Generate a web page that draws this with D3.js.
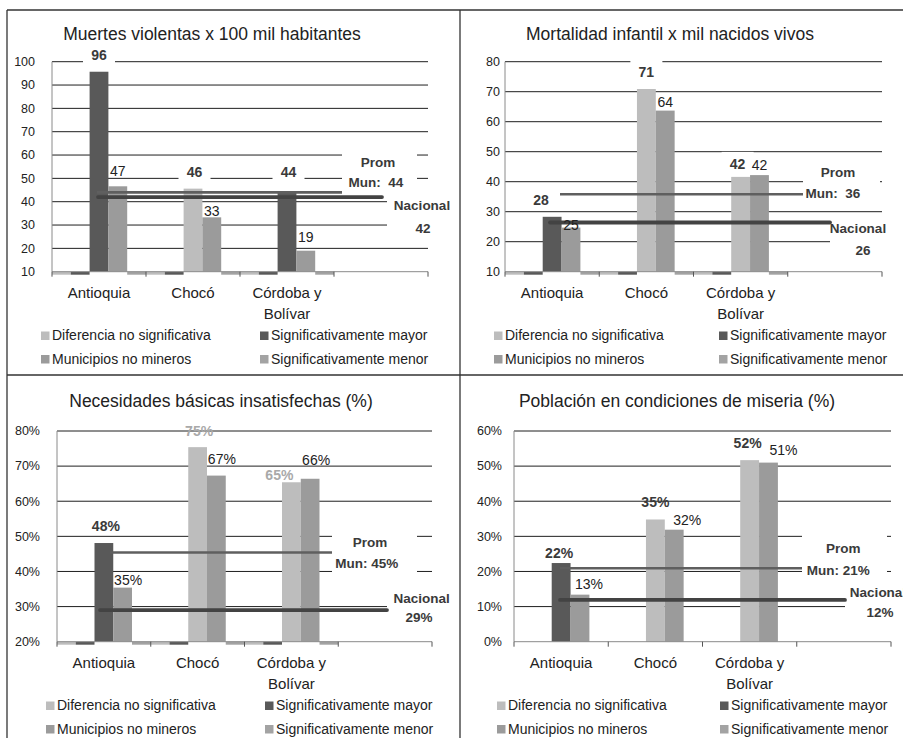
<!DOCTYPE html>
<html><head><meta charset="utf-8">
<script src="https://cdn.jsdelivr.net/npm/d3@7"></script>
<style>
body{margin:0;background:#fff}
svg{display:block}
text{font-family:"Liberation Sans",Arial,Helvetica,sans-serif}
</style>
</head><body>
<svg id="chart" width="903" height="738"></svg>
<script>
// ---------------- DATA ----------------
const categories = ["Antioquia", "Chocó", "Córdoba y\nBolívar", ""];
const legendLabels = ["Diferencia no significativa", "Significativamente mayor", "Municipios no mineros", "Significativamente menor"];
const titles = ["Muertes violentas x 100 mil habitantes", "Mortalidad infantil x mil nacidos vivos",
                "Necesidades básicas insatisfechas (%)", "Población en condiciones de miseria (%)"];

const ticksMuertes = [10, 20, 30, 40, 50, 60, 70, 80, 90, 100];
const ticksMortalidad = [10, 20, 30, 40, 50, 60, 70, 80];
const ticksNBI = [20, 30, 40, 50, 60, 70, 80];
const ticksMiseria = [0, 10, 20, 30, 40, 50, 60];

// municipios mineros (valor) y su significancia, municipios no mineros
const minerosMuertes = [95.7, 45.6, 44.3];
const signifMuertes = ["mayor", "ns", "mayor"];
const noMinerosMuertes = [46.6, 33.3, 19.0];

const minerosMortalidad = [28.3, 70.9, 41.6];
const signifMortalidad = ["mayor", "ns", "ns"];
const noMinerosMortalidad = [24.7, 63.7, 42.2];

const minerosNBI = [48.1, 75.4, 65.4];
const signifNBI = ["mayor", "ns", "ns"];
const noMinerosNBI = [35.4, 67.3, 66.4];

const minerosMiseria = [22.4, 34.8, 51.7];
const signifMiseria = ["mayor", "ns", "ns"];
const noMinerosMiseria = [13.4, 31.9, 51.0];

// series vacías de la leyenda (valor cero en cada departamento)
const serieNoSignificativa = [0, 0, 0];
const serieMayor = [0, 0, 0];
const serieMenor = [0, 0, 0];

const promMun = [44, 35.8, 45.4, 20.9];
const nacional = [42, 26.4, 29.0, 11.9];
const isPercent = [false, false, true, true];

// ---------------- LAYOUT / STYLE ----------------
const COLORS = {ns: "#bdbdbd", mayor: "#595959", noMin: "#9b9b9b", menor: "#a3a3a3"};
const panels = [
  {ticks: ticksMuertes, min: minerosMuertes, sig: signifMuertes, noMin: noMinerosMuertes,
   x0: 52, x1: 428, top: 61.7, bottom: 271.7, titleX: 212, titleY: 40, tickX: 35,
   promLine: [97, 342], nacLine: [98, 382], promBox: [342, 145, 417, 191], nacBox: [387, 195, 460, 240],
   promText: [[378, 167], [376, 187]], nacText: [[422, 210], [423, 233]], legX: [41, 260],
   labelBoxes: true, nsColor: "#3a3a3a",
   minLab: [[0, -12], [1.5, -12], [1.5, -15]], noMinLab: [[0, -10], [0, -1], [0, -9]]},
  {ticks: ticksMortalidad, min: minerosMortalidad, sig: signifMortalidad, noMin: noMinerosMortalidad,
   x0: 505, x1: 882, top: 61.7, bottom: 271.7, titleX: 670, titleY: 40, tickX: 500,
   promLine: [560, 803], nacLine: [550, 830], promBox: [803, 160, 880, 205], nacBox: [830, 218, 903, 262],
   promText: [[838, 176.7], [833, 198.3]], nacText: [[858, 233.3], [863, 255]], legX: [494, 719],
   labelBoxes: true, nsColor: "#3a3a3a",
   minLab: [[-11, -12], [0, -12], [-3, -8]], noMinLab: [[0, 2], [0, -4], [0, -5]]},
  {ticks: ticksNBI, min: minerosNBI, sig: signifNBI, noMin: noMinerosNBI,
   x0: 57, x1: 432, top: 431, bottom: 641.7, titleX: 221, titleY: 407.3, tickX: 40,
   promLine: [110, 332], nacLine: [100, 387], promBox: [332, 530, 417, 576], nacBox: [387, 590, 460, 628],
   promText: [[370, 546.7], [366.7, 568.3]], nacText: [[421.7, 603.3], [419, 621.7]], legX: [46, 265],
   labelBoxes: false, nsColor: "#a9a9a9",
   minLab: [[2, -12], [1.5, -11], [-12, -2]], noMinLab: [[5.5, -3], [5.5, -12], [6, -14]]},
  {ticks: ticksMiseria, min: minerosMiseria, sig: signifMiseria, noMin: noMinerosMiseria,
   x0: 514, x1: 891, top: 431, bottom: 641.7, titleX: 677, titleY: 407.3, tickX: 502,
   promLine: [560, 802], nacLine: [560, 845], promBox: [802, 525, 887, 580], nacBox: [845, 585, 903, 626],
   promText: [[843.3, 552.7], [838.3, 575]], nacText: [[878, 596.7], [880, 616.7]], legX: [497, 720],
   labelBoxes: false, nsColor: "#3a3a3a",
   minLab: [[-2, -5], [0, -12], [-2, -12]], noMinLab: [[9, -6], [13, -5], [15, -8]]}
];

const svg = d3.select("#chart");
svg.append("rect").attr("width", 903).attr("height", 738).attr("fill", "#fff");

panels.forEach((p, pi) => {
  const g = svg.append("g");
  const pct = isPercent[pi];
  const fmt = v => Math.round(v) + (pct ? "%" : "");
  const yMin = d3.min(p.ticks), yMax = d3.max(p.ticks);
  const y = d3.scaleLinear().domain([yMin, yMax]).range([p.bottom, p.top]);
  const x = d3.scaleBand().domain(categories).range([p.x0, p.x1]).padding(0);
  const slot = d3.scaleBand().domain(d3.range(5)).range([0, x.bandwidth()]).padding(0);

  // title
  g.append("text").attr("x", p.titleX).attr("y", p.titleY).attr("text-anchor", "middle")
    .attr("font-size", 17.5).attr("fill", "#222").text(titles[pi]);

  // gridlines
  g.selectAll(".grid").data(p.ticks.filter(t => t !== yMin)).join("line")
    .attr("x1", p.x0).attr("x2", p.x1).attr("y1", d => y(d)).attr("y2", d => y(d))
    .attr("stroke", "#1f1f1f").attr("stroke-width", 1);

  // white boxes for reference-line labels
  [p.promBox, p.nacBox].forEach(b => {
    g.append("rect").attr("x", b[0]).attr("y", b[1]).attr("width", b[2] - b[0]).attr("height", b[3] - b[1])
      .attr("fill", "#fff");
  });

  // tick labels
  g.selectAll(".tl").data(p.ticks).join("text")
    .attr("x", p.tickX).attr("y", d => y(d)).attr("dy", "0.35em").attr("text-anchor", "end")
    .attr("font-size", 12.5).attr("fill", "#222").text(d => d + (pct ? "%" : ""));

  // stubs for empty series (zero values under an axis that starts above zero)
  const stubSeries = [[serieNoSignificativa, 0, COLORS.ns], [serieMayor, 1, COLORS.mayor], [serieMenor, 4, COLORS.menor]];
  stubSeries.forEach(([vals, s, col]) => {
    g.selectAll(null).data(vals.map((v, i) => ({v, i})).filter(d => d.v < yMin)).join("rect")
      .attr("x", d => x(categories[d.i]) + slot(s)).attr("width", slot.bandwidth())
      .attr("y", y(yMin)).attr("height", 3).attr("fill", col);
  });

  // bars: municipios mineros (slot 2) and no mineros (slot 3)
  const mineros = p.min.map((v, i) => ({v, i, sig: p.sig[i]}));
  g.selectAll(".bm").data(mineros).join("rect")
    .attr("x", d => x(categories[d.i]) + slot(2)).attr("width", slot.bandwidth())
    .attr("y", d => y(d.v)).attr("height", d => y(yMin) - y(d.v))
    .attr("fill", d => COLORS[d.sig]);
  const noMin = p.noMin.map((v, i) => ({v, i}));
  g.selectAll(".bn").data(noMin).join("rect")
    .attr("x", d => x(categories[d.i]) + slot(3)).attr("width", slot.bandwidth())
    .attr("y", d => y(d.v)).attr("height", d => y(yMin) - y(d.v))
    .attr("fill", COLORS.noMin);

  // axes
  g.append("line").attr("x1", p.x0).attr("x2", p.x0).attr("y1", p.top).attr("y2", p.bottom)
    .attr("stroke", "#8a8a8a");
  g.append("line").attr("x1", p.x0).attr("x2", p.x1).attr("y1", p.bottom).attr("y2", p.bottom)
    .attr("stroke", "#8a8a8a");
  const bounds = categories.map(c => x(c)).concat([p.x1]);
  g.selectAll(".xt").data(bounds).join("line")
    .attr("x1", d => d).attr("x2", d => d).attr("y1", p.bottom).attr("y2", p.bottom + 5)
    .attr("stroke", "#555");

  // category labels
  categories.forEach(c => {
    const lines = c.split("\n");
    const t = g.append("text").attr("text-anchor", "middle").attr("font-size", 15).attr("fill", "#222");
    lines.forEach((l, k) => {
      t.append("tspan").attr("x", x(c) + x.bandwidth() / 2).attr("y", p.bottom + 26 + k * 21).text(l);
    });
  });

  // reference lines
  g.append("line").attr("x1", p.promLine[0]).attr("x2", p.promLine[1])
    .attr("y1", y(promMun[pi])).attr("y2", y(promMun[pi]))
    .attr("stroke", "#5f5f5f").attr("stroke-width", 2.6);
  g.append("line").attr("x1", p.nacLine[0]).attr("x2", p.nacLine[1])
    .attr("y1", y(nacional[pi])).attr("y2", y(nacional[pi]))
    .attr("stroke", "#434343").attr("stroke-width", 3.8).attr("stroke-linecap", "round");

  const refTxt = (pos, txt) => g.append("text").attr("x", pos[0]).attr("y", pos[1]).attr("text-anchor", "middle")
    .attr("font-size", 13.5).attr("font-weight", "bold").attr("fill", "#3a3a3a")
    .style("white-space", "pre").text(txt);
  refTxt(p.promText[0], "Prom");
  refTxt(p.promText[1], pct ? "Mun: " + fmt(promMun[pi]) : "Mun:  " + fmt(promMun[pi]));
  refTxt(p.nacText[0], "Nacional");
  refTxt(p.nacText[1], fmt(nacional[pi]));

  // data labels
  mineros.forEach(d => {
    const off = p.minLab[d.i];
    const cx = x(categories[d.i]) + slot(2) + slot.bandwidth() / 2 + off[0];
    const by = y(d.v) + off[1];
    if (p.labelBoxes) {
      g.append("rect").attr("x", cx - 16).attr("y", by - 17).attr("width", 32).attr("height", 22).attr("fill", "#fff");
    }
    g.append("text").attr("x", cx).attr("y", by).attr("text-anchor", "middle")
      .attr("font-size", 14).attr("font-weight", "bold")
      .attr("fill", d.sig === "ns" ? p.nsColor : "#3a3a3a").text(fmt(d.v));
  });
  noMin.forEach(d => {
    const off = p.noMinLab[d.i];
    const cx = x(categories[d.i]) + slot(3) + slot.bandwidth() / 2 + off[0];
    g.append("text").attr("x", cx).attr("y", y(d.v) + off[1]).attr("text-anchor", "middle")
      .attr("font-size", 14).attr("fill", "#222").text(fmt(d.v));
  });

  // legend
  const legColors = [COLORS.ns, COLORS.mayor, COLORS.noMin, COLORS.menor];
  legendLabels.forEach((l, k) => {
    const lx = p.legX[k % 2];
    const ly = p.bottom + 68.3 + Math.floor(k / 2) * 23.5;
    g.append("rect").attr("x", lx).attr("y", ly - 8.5).attr("width", 8.5).attr("height", 8.5).attr("fill", legColors[k]);
    g.append("text").attr("x", lx + 11).attr("y", ly).attr("font-size", 14).attr("fill", "#222").text(l);
  });
});

// panel borders
const border = [[7, 10, 903, 10], [7, 10, 7, 738], [460, 10, 460, 738], [7, 375, 903, 375]];
svg.selectAll(".border").data(border).join("line")
  .attr("x1", d => d[0]).attr("y1", d => d[1]).attr("x2", d => d[2]).attr("y2", d => d[3])
  .attr("stroke", "#333").attr("stroke-width", 1.3);
</script>
</body></html>
